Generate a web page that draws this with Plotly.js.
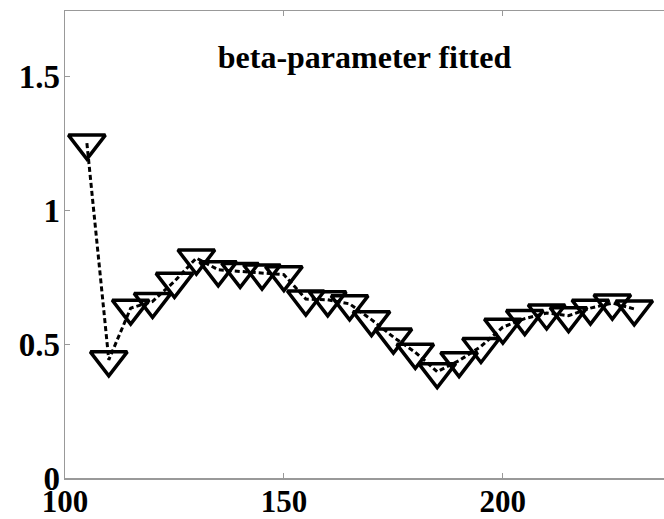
<!DOCTYPE html>
<html>
<head>
<meta charset="utf-8">
<script src="https://cdn.plot.ly/plotly-3.0.1.min.js"></script>
<style>
  html, body { margin: 0; padding: 0; background: #fff; }
  #chart { width: 664px; height: 519px; }
</style>
</head>
<body>
<div id="chart"></div>
<script>
// Data
const xValues = [105, 110, 115, 120, 125, 130, 135, 140, 145, 150, 155, 160, 165,
                 170, 175, 180, 185, 190, 195, 200, 205, 210, 215, 220, 225, 230];
const betaValues = [1.25, 0.441, 0.634, 0.659, 0.734, 0.821, 0.777, 0.771, 0.765, 0.759,
                    0.668, 0.665, 0.650, 0.591, 0.526, 0.469, 0.397, 0.438, 0.491, 0.563,
                    0.595, 0.616, 0.606, 0.634, 0.653, 0.631];
const xTickValues = [100, 150, 200];
const xTickLabels = ['100', '150', '200'];
const yTickValues = [0, 0.5, 1, 1.5];
const yTickLabels = ['0', '0.5', '1', '1.5'];
const chartTitle = 'beta-parameter fitted';

const trace = {
  x: xValues,
  y: betaValues,
  type: 'scatter',
  mode: 'lines+markers',
  line: { color: '#000', width: 3, dash: '5px,3px' },
  marker: {
    symbol: 'triangle-down-open',
    size: 32,
    color: '#000',
    line: { color: '#000', width: 3.5 }
  },
  hoverinfo: 'skip',
  showlegend: false
};

const serif = '"Liberation Serif", "Times New Roman", serif';

const layout = {
  width: 664,
  height: 519,
  margin: { l: 65, r: 0, t: 11, b: 41, pad: 0 },
  paper_bgcolor: '#fff',
  plot_bgcolor: '#fff',
  title: {
    text: '<b>' + chartTitle + '</b>',
    font: { family: serif, size: 32, color: '#000' },
    x: 0.5, xref: 'paper', xanchor: 'center',
    y: 1 - 57 / 519, yref: 'container', yanchor: 'middle'
  },
  xaxis: {
    range: [100, 236.8],
    tickvals: xTickValues,
    ticktext: xTickLabels,
    ticks: 'inside',
    ticklen: 5,
    tickwidth: 1,
    tickcolor: '#999',
    showline: true,
    linecolor: '#999',
    linewidth: 1.5,
    mirror: 'ticks',
    showgrid: false,
    zeroline: false,
    ticklabelstandoff: -5,
    tickfont: { family: serif, size: 31, color: '#000', weight: 'bold' }
  },
  yaxis: {
    range: [0, 1.743],
    tickvals: yTickValues,
    ticktext: yTickLabels,
    ticks: 'inside',
    ticklen: 5,
    tickwidth: 1,
    tickcolor: '#999',
    showline: true,
    linecolor: '#999',
    linewidth: 1.5,
    mirror: false,
    showgrid: false,
    zeroline: false,
    ticklabelstandoff: -3,
    tickfont: { family: serif, size: 33, color: '#000', weight: 'bold' }
  }
};

Plotly.newPlot('chart', [trace], layout, { staticPlot: true, displayModeBar: false });
</script>
</body>
</html>
